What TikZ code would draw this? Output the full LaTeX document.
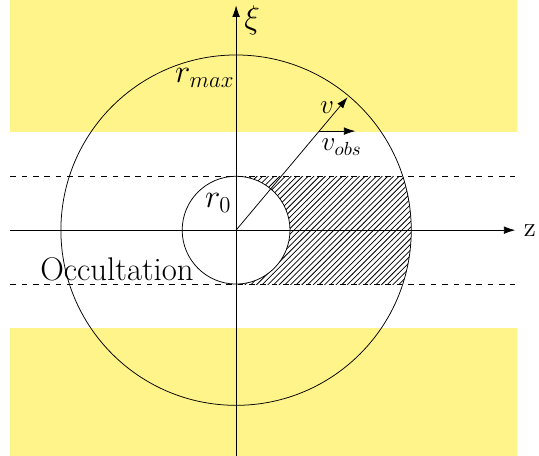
\documentclass[tikz,border=0pt]{standalone}
\usepackage{tikz}
\usetikzlibrary{
    arrows.meta,
    patterns,
    calc
}
\definecolor{bandyellow}{RGB}{255,244,138}

\begin{document}
\begin{tikzpicture}[
    band/.style={fill=bandyellow, draw=none},
    axis/.style={-{Latex[length=6pt,width=4pt]}},
    arrow/.style={-{Latex[length=6pt,width=4pt]}},
    limit/.style={dashed},
    hatch/.style={pattern=north east lines},
    biglabel/.style={font=\fontsize{17.3}{20}\selectfont},
    smalllabel/.style={font=\fontsize{14.5}{17}\selectfont}
]

% Define sizes
\pgfmathsetmacro{\rz}{1}
\pgfmathsetmacro{\rmax}{3.25}

\useasboundingbox (-4.38,-4.19) rectangle (5.62,4.27);

% ============================== BANDS ==============================
\fill[band] (-4.19,1.82) rectangle (5.21,4.27);
\fill[band] (-4.19,-1.82) rectangle (5.21,-4.19);

% ============================== HATCHED REGION ==============================
\begin{scope}
    \clip (0,0) circle (\rmax);
    \fill[hatch] (0,-\rz) rectangle (\rmax,\rz);
\end{scope}
\fill[white] (0,0) circle (\rz);

% ============================== CIRCLES ==============================
\coordinate (O) at (0,0);
\draw (O) circle (\rz);
\draw (O) circle (\rmax);

% Occultation limits
\coordinate (lim_up_w) at (-4.19,\rz);
\coordinate (lim_up_e) at (5.18,\rz);
\coordinate (lim_lo_w) at (-4.19,-\rz);
\coordinate (lim_lo_e) at (5.18,-\rz);
\draw[limit] (lim_up_w) -- (lim_up_e);
\draw[limit] (lim_lo_w) -- (lim_lo_e);

% ============================== AXES ==============================
\coordinate (z_start) at (-4.19,0);
\coordinate (z_end) at (5.18,0);
\coordinate (xi_start) at (0,-4.19);
\coordinate (xi_end) at (0,4.17);
\draw[axis] (z_start) -- (z_end);
\draw[axis] (xi_start) -- (xi_end);
\node[smalllabel] (z_label) at (5.45,0) {z};
\node[biglabel] (xi_label) at (0.3,3.9) {$\xi$};

% Radii
\node[biglabel] (r0_label) at (-0.33,0.5) {$r_0$};
\node[biglabel] (rmax_label) at (-0.58,2.82) {$r_{max}$};

% ============================== VELOCITIES ==============================
\coordinate (v_tip) at (50:3.22);
\draw[arrow] (O) -- (v_tip);
\node[smalllabel] (v_label) at (1.69,2.27) {$v$};
\coordinate (vobs_start) at ($(O)!0.745!(v_tip)$);
\draw[arrow] (vobs_start) -- ++(0.67,0) coordinate (vobs_tip);
\node[smalllabel] (vobs_label) at (1.96,1.54) {$v_{obs}$};

\node[biglabel] (occ_label) at (-2.21,-0.72) {Occultation};

\end{tikzpicture}
\end{document}
